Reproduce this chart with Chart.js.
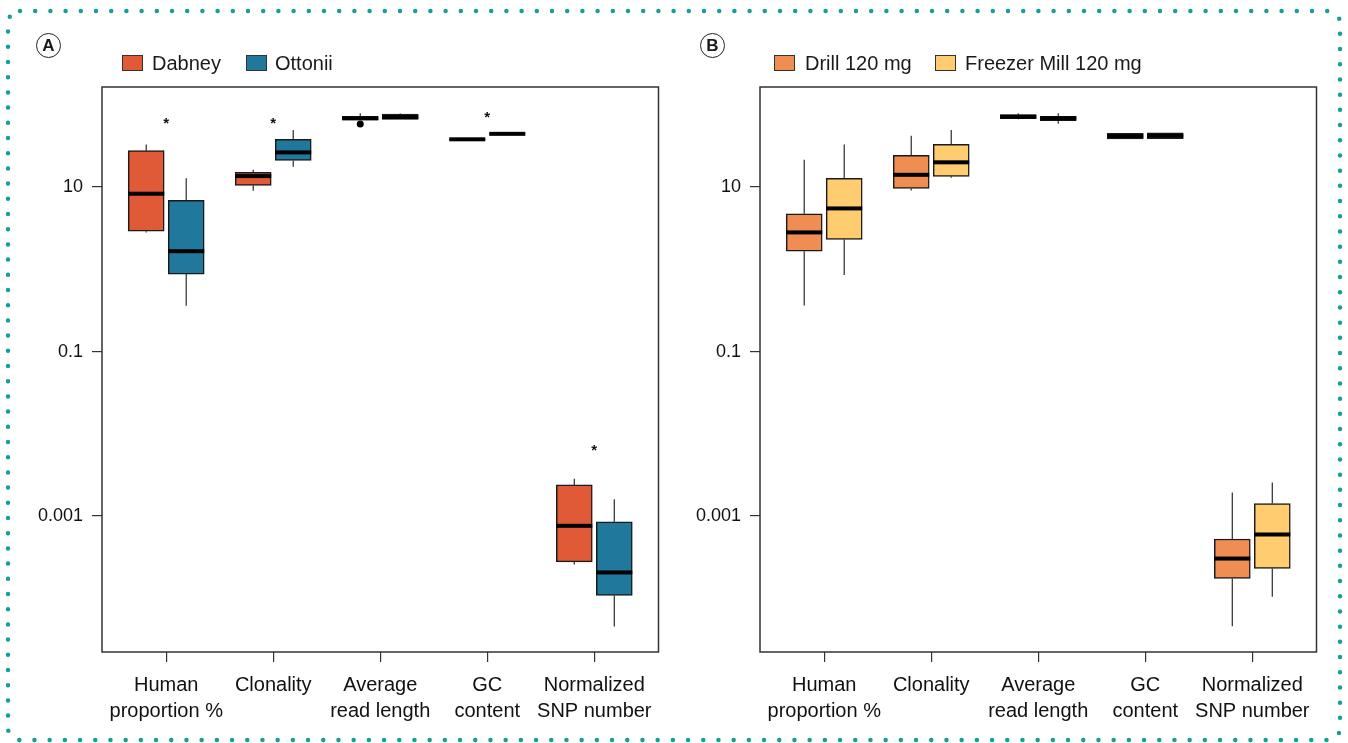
<!DOCTYPE html>
<html>
<head>
<meta charset="utf-8">
<script src="https://cdn.jsdelivr.net/npm/chart.js@4.4.1/dist/chart.umd.min.js"></script>
<style>
  body { margin: 0; background: #fff; width: 1348px; height: 743px; overflow: hidden; position: relative;
         font-family: "Liberation Sans", Arial, Helvetica, sans-serif; color: #1a1a1a; }
  .panel { position: absolute; top: 0; }
  .tag { position: absolute; width: 23px; height: 23px; border: 1.5px solid #222; border-radius: 50%;
         font-weight: bold; font-size: 17px; line-height: 23px; text-align: center; }
  .sw { position: absolute; width: 19px; height: 14px; border: 1.5px solid #333; }
  .lt { position: absolute; font-size: 20px; line-height: 20px; white-space: nowrap; }
  svg.frame { position: absolute; left: 0; top: 0; pointer-events: none; }
</style>
</head>
<body>
<svg class="frame" width="1348" height="743">
  <rect x="8" y="11" width="1332" height="729" rx="12" ry="12" fill="none" stroke="#1a9c9c"
        stroke-width="4.5" stroke-linecap="round" stroke-dasharray="0 15.2"/>
</svg>

<canvas id="chartA" class="panel" style="left:0px" width="674" height="743"></canvas>
<canvas id="chartB" class="panel" style="left:658px" width="674" height="743"></canvas>

<div class="tag" style="left:36px;top:33px">A</div>
<div class="sw" style="left:122px;top:55px;background:#e05a37"></div>
<div class="lt" style="left:152px;top:53px">Dabney</div>
<div class="sw" style="left:246px;top:55px;background:#21789d"></div>
<div class="lt" style="left:275px;top:53px">Ottonii</div>

<div class="tag" style="left:700px;top:33px">B</div>
<div class="sw" style="left:774px;top:55px;background:#f08d52"></div>
<div class="lt" style="left:805px;top:53px">Drill 120 mg</div>
<div class="sw" style="left:935px;top:55px;background:#ffcc70"></div>
<div class="lt" style="left:965px;top:53px">Freezer Mill 120 mg</div>

<script>
// categories on the x axis (multi-line labels)
const categories = [
    ['Human', 'proportion %'],
    ['Clonality'],
    ['Average', 'read length'],
    ['GC', 'content'],
    ['Normalized', 'SNP number']
];

// log-axis ticks
const yTicks = [10, 0.1, 0.001];
const yTickLabels = ['10', '0.1', '0.001'];

// each entry: [whisker low, Q1, median, Q3, whisker high]
const dabney = [
    [2.8, 2.9, 8.3, 27.7, 33],
    [9.0, 10.5, 13.6, 15.1, 16.2],
    [65.5, 65.5, 68.5, 72.5, 79],
    [37.8, 37.8, 38.1, 38.4, 38.4],
    [2.57e-4, 2.77e-4, 7.6e-4, 2.39e-3, 2.83e-3]
];
const ottonii = [
    [0.36, 0.875, 1.66, 6.88, 12.8],
    [17.7, 21.1, 26.4, 38, 49.3],
    [66.7, 66.7, 71, 77.3, 78.5],
    [44.1, 44.1, 44.4, 44.7, 44.7],
    [4.53e-5, 1.08e-4, 2.06e-4, 8.5e-4, 1.6e-3]
];
const dabneyOutliers = [[], [], [58.3], [], []];
const ottoniiOutliers = [[], [], [], [], []];

const drill = [
    [0.364, 1.66, 2.81, 4.73, 21.5],
    [9.1, 9.6, 14.1, 24.3, 42],
    [66.7, 67.8, 71.6, 75.9, 78.9],
    [38.4, 38.4, 41.7, 45, 45],
    [4.57e-5, 1.74e-4, 3.04e-4, 5.26e-4, 1.93e-3]
];
const freezer = [
    [0.85, 2.31, 5.5, 12.8, 33],
    [13, 13.5, 20, 33, 49.3],
    [58.9, 64.1, 68.6, 72.4, 78.9],
    [38.7, 38.7, 42, 45.7, 45.7],
    [1.04e-4, 2.3e-4, 5.96e-4, 1.42e-3, 2.56e-3]
];
const drillOutliers = [[], [], [], [], []];
const freezerOutliers = [[], [], [], [], []];

// significance stars in panel A: [category index, height]
const starsA = [[0, 67.7], [1, 67.7], [3, 78.9], [4, 7.1e-3]];
const starsB = [];

const FONT = '"Liberation Sans", Arial, Helvetica, sans-serif';

const boxExtras = {
    id: 'boxExtras',
    beforeDatasetsDraw(chart) {
        const ctx = chart.ctx;
        const y = chart.scales.y;
        ctx.save();
        ctx.strokeStyle = '#2a2a2a';
        ctx.lineWidth = 1.2;
        chart.data.datasets.forEach((ds, di) => {
            const meta = chart.getDatasetMeta(di);
            meta.data.forEach((bar, i) => {
                const s = ds.stats[i];
                ctx.beginPath();
                ctx.moveTo(bar.x, y.getPixelForValue(s[0]));
                ctx.lineTo(bar.x, y.getPixelForValue(s[1]));
                ctx.moveTo(bar.x, y.getPixelForValue(s[3]));
                ctx.lineTo(bar.x, y.getPixelForValue(s[4]));
                ctx.stroke();
            });
        });
        ctx.restore();
    },
    afterDatasetsDraw(chart, args, opts) {
        const ctx = chart.ctx;
        const x = chart.scales.x, y = chart.scales.y;
        ctx.save();
        chart.data.datasets.forEach((ds, di) => {
            const meta = chart.getDatasetMeta(di);
            meta.data.forEach((bar, i) => {
                const s = ds.stats[i];
                const py = y.getPixelForValue(s[2]);
                ctx.fillStyle = '#000';
                ctx.fillRect(bar.x - bar.width / 2, py - 2, bar.width, 4);
                (ds.outliers[i] || []).forEach(v => {
                    ctx.beginPath();
                    ctx.arc(bar.x, y.getPixelForValue(v), 3.5, 0, Math.PI * 2);
                    ctx.fill();
                });
            });
        });
        // significance stars
        ctx.fillStyle = '#111';
        ctx.font = 'bold 15px ' + FONT;
        ctx.textAlign = 'center';
        ctx.textBaseline = 'alphabetic';
        (opts.stars || []).forEach(([c, v]) => {
            ctx.fillText('*', x.getPixelForValue(c), y.getPixelForValue(v) + 9);
        });
        // plot frame
        const a = chart.chartArea;
        ctx.strokeStyle = '#333';
        ctx.lineWidth = 1.5;
        ctx.strokeRect(a.left, a.top, a.right - a.left, a.bottom - a.top);
        ctx.restore();
    }
};

function makePanel(id, names, series, outliers, colors, stars) {
    const ctx = document.getElementById(id).getContext('2d');
    return new Chart(ctx, {
        type: 'bar',
        data: {
            datasets: series.map((stats, k) => ({
                label: names[k],
                data: stats.map((s, i) => ({ x: i, y: [s[1], s[3]] })),
                stats: stats,
                outliers: outliers[k],
                backgroundColor: colors[k],
                borderColor: '#1a1a1a',
                borderWidth: 1.5,
                borderSkipped: false,
                barThickness: 40,
                maxBarThickness: 36
            }))
        },
        options: {
            responsive: false,
            animation: false,
            layout: { padding: { top: 87, right: 15.5, bottom: 0, left: 0 } },
            plugins: {
                legend: { display: false },
                tooltip: { enabled: false },
                boxExtras: { stars: stars }
            },
            scales: {
                x: {
                    type: 'linear',
                    min: -0.6,
                    max: 4.6,
                    offset: false,
                    afterBuildTicks: (scale) => {
                        scale.ticks = categories.map((_, i) => ({ value: i }));
                    },
                    afterFit: (scale) => { scale.height = 91; },
                    grid: { offset: false, drawOnChartArea: false, drawTicks: true, tickLength: 10, color: '#333', lineWidth: 1.2 },
                    border: { display: false },
                    ticks: {
                        autoSkip: false,
                        maxRotation: 0,
                        padding: 10,
                        color: '#111',
                        font: { family: FONT, size: 20, lineHeight: 1.3 },
                        callback: (v) => categories[v]
                    }
                },
                y: {
                    type: 'logarithmic',
                    min: 2.22e-5,
                    max: 164.8,
                    bounds: 'data',
                    afterBuildTicks: (scale) => {
                        scale.ticks = yTicks.map(v => ({ value: v }));
                    },
                    afterFit: (scale) => { scale.width = 102; },
                    grid: { drawOnChartArea: false, drawTicks: true, tickLength: 10, color: '#333', lineWidth: 1.2 },
                    border: { display: false },
                    ticks: {
                        padding: 9,
                        color: '#111',
                        font: { family: FONT, size: 18 },
                        callback: (v) => yTickLabels[yTicks.indexOf(v)]
                    }
                }
            }
        },
        plugins: [boxExtras]
    });
}

makePanel('chartA', ['Dabney', 'Ottonii'], [dabney, ottonii], [dabneyOutliers, ottoniiOutliers],
          ['#e05a37', '#21789d'], starsA);
makePanel('chartB', ['Drill 120 mg', 'Freezer Mill 120 mg'], [drill, freezer], [drillOutliers, freezerOutliers],
          ['#f08d52', '#ffcc70'], starsB);
</script>
</body>
</html>
